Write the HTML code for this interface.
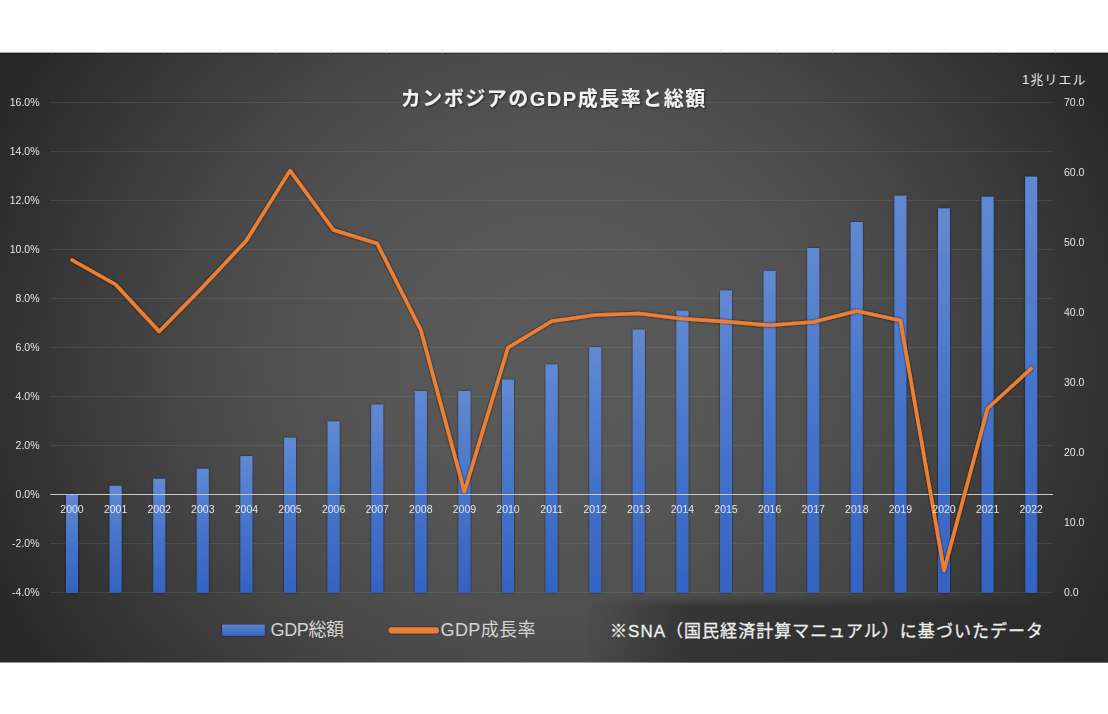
<!DOCTYPE html>
<html lang="ja"><head><meta charset="utf-8"><title>chart</title><style>
html,body{margin:0;padding:0;background:#fff;}
body{width:1108px;height:714px;overflow:hidden;font-family:"Liberation Sans",sans-serif;}
svg{display:block}
.ax{font-family:"Liberation Sans",sans-serif;font-size:10.5px;fill:#e6e6e6}
.jp{font-family:"Liberation Sans","Noto Sans CJK JP",sans-serif}
</style></head><body>
<svg width="1108" height="714" viewBox="0 0 1108 714">
<title>カンボジアのGDP成長率と総額</title><desc>GDP総額 / GDP成長率 / 1兆リエル / ※SNA（国民経済計算マニュアル）に基づいたデータ</desc>
<defs>
<radialGradient id="bg" gradientUnits="userSpaceOnUse" cx="0" cy="0" r="1" gradientTransform="translate(556 358) scale(620 560)">
<stop offset="0" stop-color="#5a5a5a"/><stop offset="0.25" stop-color="#575757"/><stop offset="0.5" stop-color="#4e4e4e"/><stop offset="0.75" stop-color="#3c3c3c"/><stop offset="1" stop-color="#282828"/></radialGradient>
<linearGradient id="bar" x1="0" y1="0" x2="0" y2="1"><stop offset="0" stop-color="#6189d3"/><stop offset="0.5" stop-color="#4674ca"/><stop offset="1" stop-color="#3463c1"/></linearGradient>
<linearGradient id="lg" x1="0" y1="0" x2="0" y2="1"><stop offset="0" stop-color="#5c85d1"/><stop offset="1" stop-color="#3766c4"/></linearGradient>
<filter id="sh" x="-20%" y="-20%" width="140%" height="140%"><feGaussianBlur in="SourceAlpha" stdDeviation="1.0"/><feOffset dx="0" dy="0.4" result="b"/><feComponentTransfer><feFuncA type="linear" slope="0.8"/></feComponentTransfer><feMerge><feMergeNode/><feMergeNode in="SourceGraphic"/></feMerge></filter>
<filter id="bsh" x="-50%" y="-5%" width="200%" height="110%"><feGaussianBlur in="SourceAlpha" stdDeviation="1.1"/><feComponentTransfer><feFuncA type="linear" slope="0.65"/></feComponentTransfer><feMerge><feMergeNode/><feMergeNode in="SourceGraphic"/></feMerge></filter>
<filter id="tsh" x="-5%" y="-30%" width="110%" height="160%"><feGaussianBlur in="SourceAlpha" stdDeviation="1.3"/><feOffset dx="0.8" dy="1.2"/><feComponentTransfer><feFuncA type="linear" slope="0.55"/></feComponentTransfer><feMerge><feMergeNode/><feMergeNode in="SourceGraphic"/></feMerge></filter>
</defs>
<rect x="0" y="52.6" width="1108" height="609.9" fill="url(#bg)"/>
<rect x="0" y="53" width="1108" height="1" fill="#000" fill-opacity="0.25"/>
<path d="M52.3 49.6V52.6M108.0 49.6V52.6M163.8 49.6V52.6M219.5 49.6V52.6M275.2 49.6V52.6M330.9 49.6V52.6M386.7 49.6V52.6M442.4 49.6V52.6M498.1 49.6V52.6M553.9 49.6V52.6M609.6 49.6V52.6M665.3 49.6V52.6M721.1 49.6V52.6M776.8 49.6V52.6M832.5 49.6V52.6M888.2 49.6V52.6M944.0 49.6V52.6M999.7 49.6V52.6M1055.4 49.6V52.6" stroke="#e4e4e4" stroke-width="1" fill="none"/>
<path d="M50.2 102.5H1053.0M50.2 151.5H1053.0M50.2 200.5H1053.0M50.2 249.5H1053.0M50.2 298.5H1053.0M50.2 347.5H1053.0M50.2 396.5H1053.0M50.2 445.5H1053.0M50.2 543.5H1053.0M50.2 592.5H1053.0" stroke="#8a8a8a" stroke-opacity="0.22" stroke-width="1" fill="none"/>
<g filter="url(#bsh)">
<rect x="66.0" y="494.3" width="12" height="98.5" fill="url(#bar)"/>
<rect x="109.6" y="485.9" width="12" height="106.9" fill="url(#bar)"/>
<rect x="153.2" y="478.8" width="12" height="114.0" fill="url(#bar)"/>
<rect x="196.8" y="468.8" width="12" height="124.0" fill="url(#bar)"/>
<rect x="240.4" y="456.1" width="12" height="136.7" fill="url(#bar)"/>
<rect x="284.0" y="437.7" width="12" height="155.1" fill="url(#bar)"/>
<rect x="327.6" y="421.4" width="12" height="171.4" fill="url(#bar)"/>
<rect x="371.2" y="404.6" width="12" height="188.2" fill="url(#bar)"/>
<rect x="414.8" y="391.0" width="12" height="201.8" fill="url(#bar)"/>
<rect x="458.4" y="391.0" width="12" height="201.8" fill="url(#bar)"/>
<rect x="502.0" y="379.6" width="12" height="213.2" fill="url(#bar)"/>
<rect x="545.6" y="364.5" width="12" height="228.3" fill="url(#bar)"/>
<rect x="589.2" y="347.2" width="12" height="245.6" fill="url(#bar)"/>
<rect x="632.8" y="329.7" width="12" height="263.1" fill="url(#bar)"/>
<rect x="676.4" y="310.7" width="12" height="282.1" fill="url(#bar)"/>
<rect x="720.0" y="290.5" width="12" height="302.3" fill="url(#bar)"/>
<rect x="763.6" y="270.9" width="12" height="321.9" fill="url(#bar)"/>
<rect x="807.2" y="248.0" width="12" height="344.8" fill="url(#bar)"/>
<rect x="850.8" y="222.0" width="12" height="370.8" fill="url(#bar)"/>
<rect x="894.4" y="195.7" width="12" height="397.1" fill="url(#bar)"/>
<rect x="938.0" y="208.4" width="12" height="384.4" fill="url(#bar)"/>
<rect x="981.6" y="196.8" width="12" height="396.0" fill="url(#bar)"/>
<rect x="1025.2" y="176.7" width="12" height="416.1" fill="url(#bar)"/>
</g>
<path d="M50.2 494.5H1053.0" stroke="#c8c8c8" stroke-width="1" fill="none"/>
<polyline points="72.0,260.0 115.6,284.5 159.2,331.5 202.8,287.0 246.4,240.5 290.0,170.6 333.6,230.0 377.2,243.5 420.8,330.0 464.4,491.8 508.0,347.7 551.6,321.2 595.2,315.0 638.8,313.5 682.4,318.8 726.0,321.6 769.6,325.3 813.2,322.0 856.8,311.0 900.4,320.5 944.0,570.5 987.6,408.5 1031.2,368.5" fill="none" stroke="#ee7f33" stroke-width="3.6" stroke-linecap="round" stroke-linejoin="round" filter="url(#sh)"/>
<g opacity="0.99">
<text class="ax" x="72.0" y="513" text-anchor="middle">2000</text>
<text class="ax" x="115.6" y="513" text-anchor="middle">2001</text>
<text class="ax" x="159.2" y="513" text-anchor="middle">2002</text>
<text class="ax" x="202.8" y="513" text-anchor="middle">2003</text>
<text class="ax" x="246.4" y="513" text-anchor="middle">2004</text>
<text class="ax" x="290.0" y="513" text-anchor="middle">2005</text>
<text class="ax" x="333.6" y="513" text-anchor="middle">2006</text>
<text class="ax" x="377.2" y="513" text-anchor="middle">2007</text>
<text class="ax" x="420.8" y="513" text-anchor="middle">2008</text>
<text class="ax" x="464.4" y="513" text-anchor="middle">2009</text>
<text class="ax" x="508.0" y="513" text-anchor="middle">2010</text>
<text class="ax" x="551.6" y="513" text-anchor="middle">2011</text>
<text class="ax" x="595.2" y="513" text-anchor="middle">2012</text>
<text class="ax" x="638.8" y="513" text-anchor="middle">2013</text>
<text class="ax" x="682.4" y="513" text-anchor="middle">2014</text>
<text class="ax" x="726.0" y="513" text-anchor="middle">2015</text>
<text class="ax" x="769.6" y="513" text-anchor="middle">2016</text>
<text class="ax" x="813.2" y="513" text-anchor="middle">2017</text>
<text class="ax" x="856.8" y="513" text-anchor="middle">2018</text>
<text class="ax" x="900.4" y="513" text-anchor="middle">2019</text>
<text class="ax" x="944.0" y="513" text-anchor="middle">2020</text>
<text class="ax" x="987.6" y="513" text-anchor="middle">2021</text>
<text class="ax" x="1031.2" y="513" text-anchor="middle">2022</text>
<text class="ax" x="39.5" y="106.2" text-anchor="end">16.0%</text>
<text class="ax" x="39.5" y="155.2" text-anchor="end">14.0%</text>
<text class="ax" x="39.5" y="204.2" text-anchor="end">12.0%</text>
<text class="ax" x="39.5" y="253.2" text-anchor="end">10.0%</text>
<text class="ax" x="39.5" y="302.2" text-anchor="end">8.0%</text>
<text class="ax" x="39.5" y="351.2" text-anchor="end">6.0%</text>
<text class="ax" x="39.5" y="400.2" text-anchor="end">4.0%</text>
<text class="ax" x="39.5" y="449.2" text-anchor="end">2.0%</text>
<text class="ax" x="39.5" y="498.2" text-anchor="end">0.0%</text>
<text class="ax" x="39.5" y="547.2" text-anchor="end">-2.0%</text>
<text class="ax" x="39.5" y="596.2" text-anchor="end">-4.0%</text>
<text class="ax" x="1064" y="106.2">70.0</text>
<text class="ax" x="1064" y="176.2">60.0</text>
<text class="ax" x="1064" y="246.2">50.0</text>
<text class="ax" x="1064" y="316.2">40.0</text>
<text class="ax" x="1064" y="386.2">30.0</text>
<text class="ax" x="1064" y="456.2">20.0</text>
<text class="ax" x="1064" y="526.2">10.0</text>
<text class="ax" x="1064" y="596.2">0.0</text>
</g>
<linearGradient id="sm" gradientUnits="userSpaceOnUse" x1="585" y1="0" x2="690" y2="0"><stop offset="0" stop-color="#2c2c2c" stop-opacity="0"/><stop offset="1" stop-color="#2c2c2c" stop-opacity="0.72"/></linearGradient>
<linearGradient id="smv" gradientUnits="userSpaceOnUse" x1="0" y1="595" x2="0" y2="607"><stop offset="0" stop-color="#fff" stop-opacity="0"/><stop offset="1" stop-color="#fff" stop-opacity="1"/></linearGradient>
<mask id="smm" maskUnits="userSpaceOnUse" x="580" y="590" width="540" height="80"><rect x="580" y="590" width="540" height="80" fill="url(#smv)"/></mask>
<rect x="585" y="594" width="523" height="68.5" fill="url(#sm)" mask="url(#smm)"/>
<text class="jp" x="400.7" y="105.8" font-size="20" font-weight="bold" fill="#f2f2f2" textLength="304.5" lengthAdjust="spacing" filter="url(#tsh)">カンボジアのGDP成長率と総額</text>
<text class="jp" x="1022" y="84" font-size="13" fill="#e6e6e6" textLength="63.5" lengthAdjust="spacing">1兆リエル</text>
<rect x="222.2" y="624.6" width="42.6" height="11.2" fill="url(#lg)" filter="url(#bsh)"/>
<text class="jp" x="270.6" y="635.7" font-size="18" fill="#d4d4d4" textLength="73.5" lengthAdjust="spacing">GDP総額</text>
<rect x="388.6" y="627.2" width="50.4" height="6.2" rx="3.1" fill="#ed7d31" filter="url(#sh)"/>
<text class="jp" x="440.6" y="635.7" font-size="18" fill="#d4d4d4" textLength="94.8" lengthAdjust="spacing">GDP成長率</text>
<text class="jp" x="610" y="637.4" font-size="17" fill="#eeeeee" stroke="#eeeeee" stroke-width="0.3" textLength="433" lengthAdjust="spacing">※SNA（国民経済計算マニュアル）に基づいたデータ</text>
</svg></body></html>
